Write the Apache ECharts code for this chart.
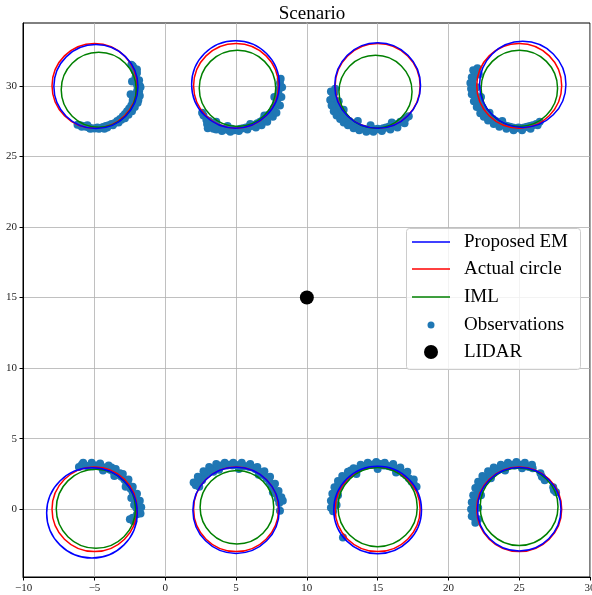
<!DOCTYPE html>
<html>
<head>
<meta charset="utf-8">
<script src="https://cdn.jsdelivr.net/npm/echarts@6/dist/echarts.min.js"></script>
<style>html,body{margin:0;padding:0;background:#fff;}#chart{width:592px;height:595px;}</style>
</head>
<body>
<div id="chart"></div>
<script>
// ---- Data ----
const xTicks = [-10, -5, 0, 5, 10, 15, 20, 25, 30];
const yTicks = [0, 5, 10, 15, 20, 25, 30];

// Actual circles: centers and radii
const actualCx = [-5, 5, 15, 25, -5, 5, 15, 25];
const actualCy = [30, 30, 30, 30, 0, 0, 0, 0];
const actualR  = [3, 3, 3, 3, 3, 3, 3, 3];

// Proposed EM estimates
const emCx = [-4.9, 4.96, 15.0, 25.25, -5.18, 5.0, 15.0, 25.0];
const emCy = [29.95, 30.1, 30.02, 30.1, -0.26, -0.08, -0.05, 0.0];
const emR  = [2.97, 3.1, 3.03, 3.05, 3.2, 3.05, 3.1, 2.95];

// IML estimates
const imlCx = [-4.7, 5.1, 14.85, 25.01, -4.9, 5.06, 15.0, 24.99];
const imlCy = [29.72, 29.82, 29.58, 29.82, 0.03, 0.14, 0.15, 0.18];
const imlR  = [2.65, 2.7, 2.58, 2.7, 2.8, 2.6, 2.8, 2.75];

// Observations (LIDAR returns), per object
const obsA = [[-6.2,27.25],[-6.0,27.2],[-5.8,27.15],[-5.6,27.1],[-5.4,27.05],[-5.2,27.0],[-5.0,26.98],[-4.8,27.05],[-4.6,27.0],[-4.4,27.08],[-4.2,27.15],[-4.0,27.2],[-3.8,27.3],[-3.6,27.35],[-3.4,27.5],[-3.2,27.65],[-3.0,27.85],[-2.85,28.0],[-2.7,28.2],[-2.55,28.4],[-2.4,28.6],[-2.3,28.85],[-2.2,29.1],[-2.1,29.35],[-2.0,29.6],[-1.85,29.6],[-1.95,29.85],[-1.8,30.0],[-2.0,30.1],[-2.05,30.35],[-2.1,30.6],[-2.05,30.85],[-2.15,31.05],[-2.2,31.25],[-2.3,31.4],[-2.3,29.0],[-2.5,28.3],[-3.1,27.6],[-4.3,26.95],[-5.5,27.2],
  [-1.75,29.9],[-1.8,29.3],[-1.85,30.4],[-1.9,29.0],[-2.0,30.9],[-2.0,31.15],[-1.95,28.8],[-2.15,28.5],[-2.35,28.2],[-2.6,27.95],[-2.85,27.7],[-3.3,27.4],[-3.7,27.2],[-4.1,27.05],[-4.7,26.95],[-5.3,26.95],[-5.9,27.1],[-2.4,31.5],[-2.45,29.4],[-2.35,30.3]];
const obsB = [[2.7,27.9],[2.9,27.6],[3.1,27.5],[3.3,27.35],[3.5,27.2],[3.7,27.1],[3.9,27.0],[4.1,26.95],[4.3,26.9],[4.5,26.85],[4.7,26.95],[4.9,26.85],[5.1,26.9],[5.3,26.95],[5.5,27.0],[5.7,27.05],[5.9,27.1],[6.1,27.15],[6.3,27.25],[6.5,27.35],[6.7,27.45],[6.9,27.6],[7.1,27.75],[7.3,27.95],[7.5,28.15],[7.65,28.4],[7.8,28.7],[7.9,29.0],[8.0,29.4],[8.05,29.8],[8.1,30.2],[8.15,30.5],[3.4,26.95],[2.95,27.3],[3.25,27.1],
  [3.0,27.0],[3.6,26.9],[4.0,26.8],[4.6,26.75],[5.2,26.8],[5.8,26.9],[6.4,27.05],[6.8,27.2],[7.2,27.45],[7.6,27.8],[7.85,28.1],[8.1,28.6],[8.2,29.2],[8.25,29.9],[2.6,28.1],[3.6,27.45],[4.4,27.15],[6.0,27.3],[7.0,27.9],[7.7,29.2]];
const obsC = [[12.0,29.8],[11.95,29.5],[11.85,29.2],[11.9,28.9],[12.05,28.6],[12.2,28.3],[12.4,28.05],[12.6,27.85],[12.8,27.65],[13.0,27.5],[13.2,27.35],[13.4,27.2],[13.6,27.1],[13.8,27.0],[14.0,26.95],[14.2,26.9],[14.4,26.85],[14.6,26.95],[14.8,26.9],[15.0,26.95],[15.2,26.9],[15.4,27.0],[15.6,27.05],[15.8,27.1],[16.0,27.15],[16.2,27.25],[16.4,27.3],[16.6,27.45],[16.8,27.55],[17.0,27.7],[17.2,27.85],[12.3,28.0],[13.1,27.3],
  [11.7,29.6],[11.65,29.0],[11.75,28.6],[11.9,28.2],[12.1,27.9],[12.35,27.65],[12.6,27.4],[12.9,27.2],[13.3,27.0],[13.7,26.85],[14.2,26.75],[14.7,26.75],[15.3,26.8],[15.9,26.9],[16.4,27.05],[16.9,27.35],[12.25,28.9],[12.6,28.3],[13.6,27.5],[14.5,27.2],[16.0,27.4]];
const obsD = [[22.05,31.25],[21.95,31.0],[21.85,30.75],[21.75,30.5],[21.7,30.25],[21.75,30.0],[21.8,29.7],[21.85,29.45],[21.95,29.2],[22.05,28.95],[22.2,28.7],[22.35,28.45],[22.55,28.2],[22.75,28.0],[22.95,27.8],[23.15,27.65],[23.35,27.5],[23.55,27.4],[23.75,27.3],[23.95,27.2],[24.15,27.15],[24.35,27.1],[24.55,27.05],[24.75,27.0],[24.95,27.05],[25.15,27.0],[25.35,27.05],[25.55,27.1],[25.75,27.15],[25.95,27.2],[26.2,27.3],[26.45,27.45],[22.0,29.9],[22.4,28.2],
  [21.55,30.2],[21.6,29.8],[21.65,30.6],[21.75,31.1],[21.65,29.4],[21.8,28.9],[22.0,28.5],[22.25,28.05],[22.5,27.8],[22.8,27.55],[23.2,27.3],[23.6,27.1],[24.1,26.95],[24.6,26.85],[25.2,26.85],[25.8,26.95],[26.3,27.2],[22.15,30.8],[22.3,29.2],[22.9,28.1],[23.8,27.5]];
const obsE = [[-5.9,3.15],[-5.7,3.1],[-5.5,3.05],[-5.3,3.1],[-5.1,3.05],[-4.9,3.1],[-4.7,3.05],[-4.5,3.0],[-4.3,2.95],[-4.1,2.9],[-3.9,2.8],[-3.7,2.7],[-3.5,2.6],[-3.3,2.45],[-3.1,2.3],[-2.9,2.1],[-2.75,1.9],[-2.6,1.7],[-2.45,1.45],[-2.3,1.2],[-2.2,0.95],[-2.1,0.7],[-2.0,0.45],[-1.9,0.2],[-1.85,-0.05],[-2.0,-0.35],[-2.3,-0.6],[-2.25,-0.85],[-2.05,0.1],[-3.8,2.95],[-3.2,2.55],
  [-5.8,3.3],[-5.2,3.3],[-4.6,3.25],[-4.0,3.1],[-3.5,2.85],[-3.0,2.5],[-2.6,2.1],[-2.3,1.6],[-2.0,1.1],[-1.8,0.6],[-1.7,0.15],[-1.75,-0.3],[-6.1,3.0],[-4.4,2.75],[-3.6,2.35],[-2.8,1.6],[-2.4,0.8],[-2.2,0.3],[-2.5,-0.7]];
const obsF = [[2.15,1.7],[2.35,1.95],[2.55,2.2],[2.75,2.4],[2.95,2.6],[3.15,2.75],[3.35,2.85],[3.55,2.95],[3.75,3.05],[3.95,3.1],[4.15,3.15],[4.35,3.1],[4.55,3.15],[4.75,3.1],[4.95,3.15],[5.15,3.1],[5.35,3.1],[5.55,3.05],[5.75,3.05],[5.95,3.0],[6.15,2.95],[6.35,2.85],[6.55,2.75],[6.75,2.6],[6.95,2.4],[7.15,2.2],[7.35,1.95],[7.5,1.7],[7.65,1.4],[7.8,1.1],[7.95,0.75],[8.05,0.45],[8.1,-0.1],[3.4,2.65],[2.6,2.05],
  [2.0,1.9],[2.3,2.3],[2.7,2.7],[3.1,3.0],[3.6,3.2],[4.2,3.3],[4.8,3.3],[5.4,3.3],[6.0,3.2],[6.5,3.0],[7.0,2.7],[7.4,2.3],[7.75,1.8],[8.0,1.3],[8.2,0.85],[8.3,0.6],[2.4,1.6],[3.8,2.8],[5.2,2.85],[6.6,2.45],[7.6,1.2]];
const obsG = [[11.85,-0.15],[11.85,0.2],[11.9,0.5],[11.95,0.8],[12.05,1.1],[12.15,1.35],[12.3,1.6],[12.45,1.85],[12.6,2.05],[12.8,2.25],[13.0,2.45],[13.2,2.6],[13.4,2.75],[13.6,2.85],[13.8,2.95],[14.0,3.05],[14.2,3.1],[14.4,3.15],[14.6,3.15],[14.8,3.2],[15.0,3.15],[15.2,3.2],[15.4,3.1],[15.6,3.1],[15.8,3.05],[16.0,3.0],[16.2,2.9],[16.4,2.8],[16.6,2.7],[16.8,2.55],[17.0,2.4],[17.2,2.2],[17.4,1.95],[17.6,1.7],[12.55,-2.0],[12.2,1.7],[13.1,2.75],
  [11.7,0.1],[11.7,0.6],[11.8,1.1],[11.95,1.55],[12.2,2.0],[12.5,2.35],[12.9,2.65],[13.3,2.9],[13.8,3.15],[14.3,3.3],[14.9,3.35],[15.5,3.3],[16.1,3.2],[16.6,2.95],[17.1,2.65],[17.55,2.1],[12.1,0.3],[12.2,1.0],[13.5,2.5],[15.0,2.85],[16.3,2.6],[17.75,1.6]];
const obsH = [[21.9,-0.95],[21.85,-0.6],[21.8,-0.3],[21.8,0.0],[21.85,0.3],[21.9,0.6],[22.0,0.9],[22.1,1.2],[22.2,1.45],[22.35,1.7],[22.5,1.95],[22.7,2.2],[22.9,2.4],[23.1,2.55],[23.3,2.7],[23.5,2.8],[23.7,2.9],[23.9,3.0],[24.1,3.05],[24.3,3.15],[24.5,3.15],[24.7,3.1],[24.9,3.15],[25.1,3.15],[25.3,3.1],[25.5,3.05],[25.7,3.0],[25.95,2.9],[26.6,2.3],[26.8,2.05],[27.45,1.35],[27.6,1.2],[22.05,1.55],[23.2,2.75],
  [21.65,-0.5],[21.6,0.0],[21.65,0.5],[21.75,1.0],[21.9,1.5],[22.1,1.95],[22.4,2.35],[22.8,2.7],[23.2,2.95],[23.7,3.15],[24.2,3.3],[24.8,3.35],[25.4,3.3],[25.9,3.15],[22.1,-0.7],[22.1,0.1],[22.3,1.0],[23.0,2.2],[24.0,2.75],[25.2,2.9],[27.4,1.55],[26.5,2.55]];

const lidar = [[10, 15]];

const seriesNames = ['Proposed EM', 'Actual circle', 'IML', 'Observations', 'LIDAR'];
const seriesColors = ['#0000ff', '#ff0000', '#008000', '#1f77b4', '#000000'];

// ---- Build ----
const FONT = '"Liberation Serif", "DejaVu Serif", serif';
const chart = echarts.init(document.getElementById('chart'), null, {renderer: 'canvas'});

function zipCircles(cx, cy, r) { return cx.map((v, i) => [v, cy[i], r[i]]); }
function circleSeries(name, color, data) {
  return {
    name, type: 'custom', coordinateSystem: 'cartesian2d', z: 3, silent: true,
    encode: {x: 0, y: 1},
    data,
    renderItem: function (params, api) {
      const c = api.coord([api.value(0), api.value(1)]);
      const s = api.size([api.value(2), api.value(2)]);
      return {
        type: 'ellipse',
        shape: {cx: c[0], cy: c[1], rx: s[0], ry: s[1]},
        style: {fill: 'none', stroke: color, lineWidth: 1.5}
      };
    }
  };
}
const minus = v => String(v).replace('-', '\u2212');
const allObs = [].concat(obsA, obsB, obsC, obsD, obsE, obsF, obsG, obsH);

const legendX = 406, legendY = 228;
const rowsY = [242, 269, 297, 325, 352];

const legendGraphics = [
  {type: 'rect', left: legendX, top: legendY, z: 10,
   shape: {width: 174, height: 141, r: 3},
   style: {fill: 'rgba(255,255,255,0.8)', stroke: '#cccccc', lineWidth: 1}}
];
seriesNames.forEach((n, i) => {
  const yc = rowsY[i];
  if (i < 3) {
    legendGraphics.push({type: 'line', z: 11, shape: {x1: 412, y1: yc, x2: 450, y2: yc},
      style: {stroke: seriesColors[i], lineWidth: 1.5}});
  } else {
    legendGraphics.push({type: 'circle', z: 11, shape: {cx: 431, cy: yc, r: i === 3 ? 3.5 : 7},
      style: {fill: seriesColors[i]}});
  }
  legendGraphics.push({type: 'text', z: 11, x: 464, y: yc,
    style: {text: n, font: '19px ' + FONT, fill: '#000', verticalAlign: 'middle'}});
});

const option = {
  backgroundColor: '#ffffff',
  animation: false,
  title: {
    text: 'Scenario', left: 307, top: 0, textAlign: 'center',
    textStyle: {fontFamily: FONT, fontSize: 19, fontWeight: 'normal', color: '#000'}
  },
  grid: {left: 23, right: 2, top: 23, bottom: 18, outerBoundsMode: 'none', containLabel: false,
         show: true, borderColor: '#000', borderWidth: 1, backgroundColor: 'transparent'},
  xAxis: {
    type: 'value', min: -10.05, max: 30,
    axisLine: {show: true, onZero: false, lineStyle: {color: '#000', width: 1}},
    axisTick: {show: true, length: 3.5, inside: false, customValues: xTicks, lineStyle: {color: '#000'}},
    axisLabel: {customValues: xTicks, formatter: minus, fontFamily: FONT, fontSize: 11, color: '#222', margin: 6, hideOverlap: false},
    splitLine: {show: true, lineStyle: {color: '#b0b0b0', width: 0.8}}
  },
  yAxis: {
    type: 'value', min: -4.8, max: 34.45,
    axisLine: {show: true, onZero: false, lineStyle: {color: '#000', width: 1}},
    axisTick: {show: true, length: 3.5, inside: false, customValues: yTicks, lineStyle: {color: '#000'}},
    axisLabel: {customValues: yTicks, formatter: minus, fontFamily: FONT, fontSize: 11, color: '#222', margin: 6},
    splitLine: {show: true, lineStyle: {color: '#b0b0b0', width: 0.8}}
  },
  series: [
    {name: 'Observations', type: 'scatter', z: 2, symbolSize: 8, data: allObs,
     itemStyle: {color: seriesColors[3], opacity: 1}},
    circleSeries('Actual circle', seriesColors[1], zipCircles(actualCx, actualCy, actualR)),
    circleSeries('IML', seriesColors[2], zipCircles(imlCx, imlCy, imlR)),
    circleSeries('Proposed EM', seriesColors[0], zipCircles(emCx, emCy, emR)),
    {name: 'LIDAR', type: 'scatter', z: 4, symbolSize: 14, data: lidar,
     itemStyle: {color: seriesColors[4], opacity: 1}}
  ],
  graphic: legendGraphics
};
chart.setOption(option);
</script>
</body>
</html>
